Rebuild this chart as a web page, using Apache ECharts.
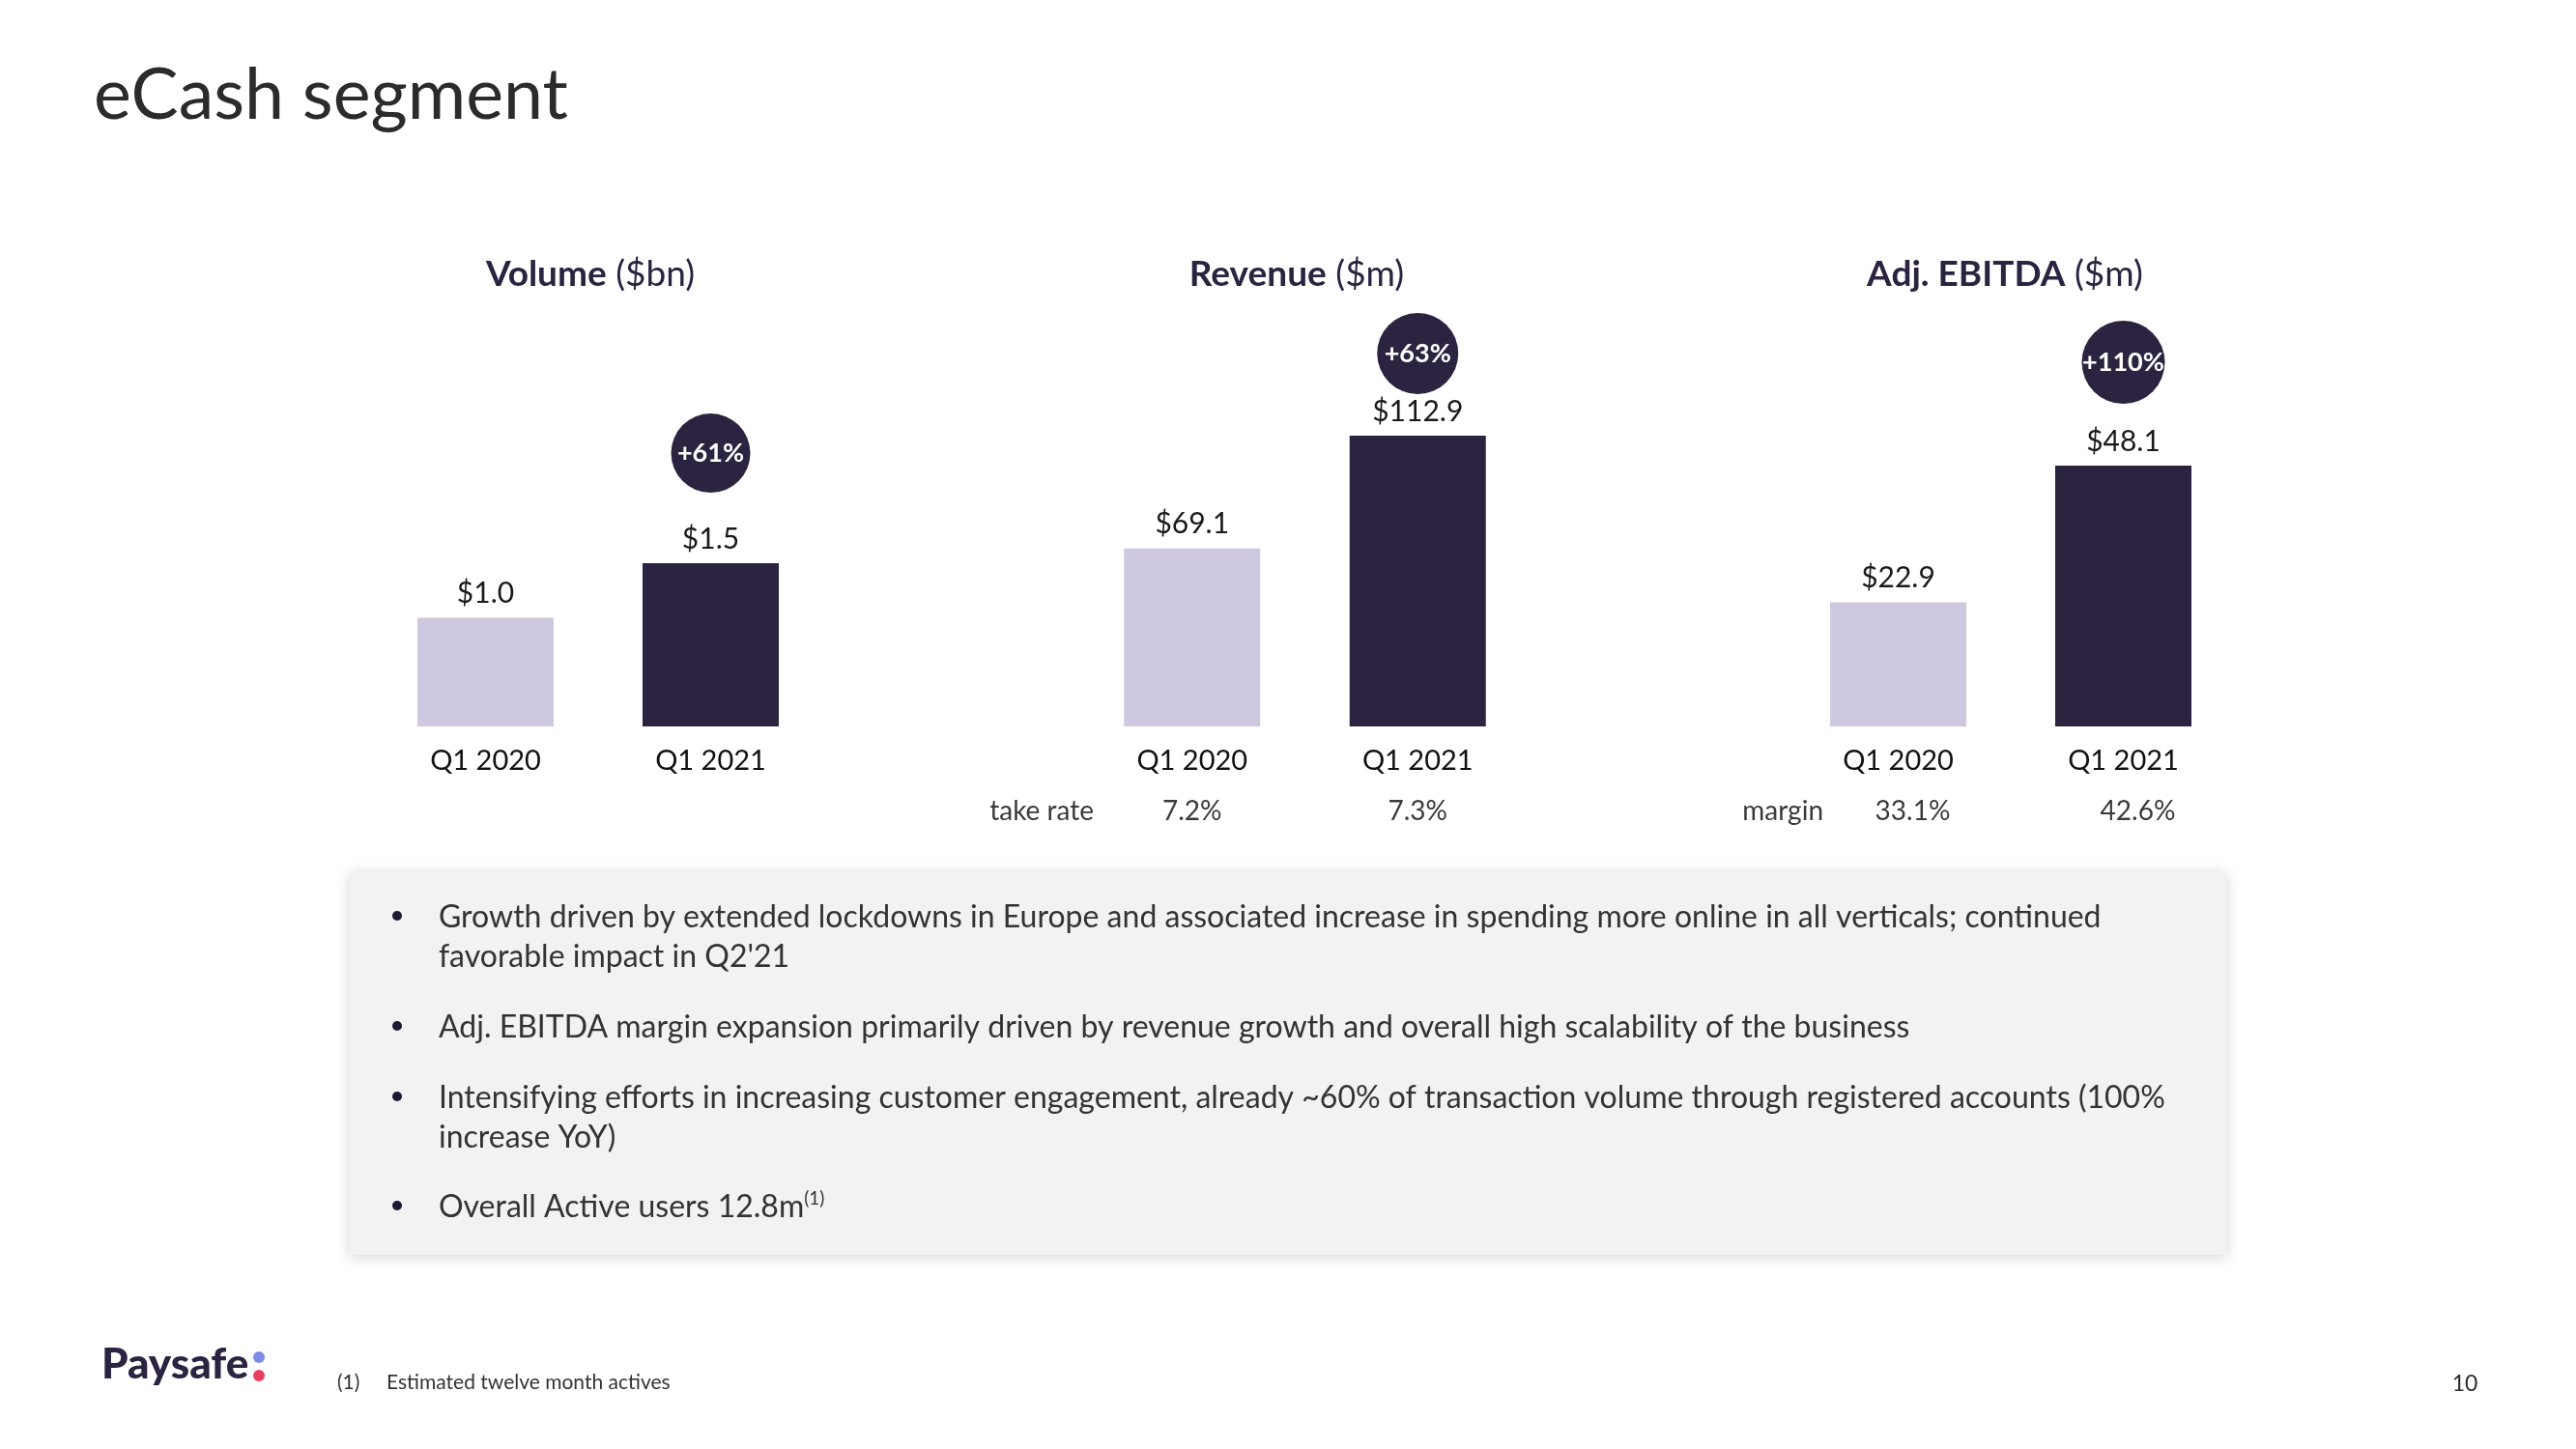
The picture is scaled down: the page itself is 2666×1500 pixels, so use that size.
<!DOCTYPE html>
<html><head><meta charset="utf-8">
<script src="https://cdn.jsdelivr.net/npm/echarts@6/dist/echarts.min.js"></script>
<style>html,body{margin:0;padding:0;background:#fff}#c{width:2666px;height:1500px}</style>
</head><body><div id="c"></div>
<script>
// ---- data ----
const categories = ['Q1 2020', 'Q1 2021'];
const volumeValues = [1.0, 1.5];
const revenueValues = [69.1, 112.9];
const ebitdaValues = [22.9, 48.1];
const chartTitles = [['Volume', '($bn)'], ['Revenue', '($m)'], ['Adj. EBITDA', '($m)']];
const growthBadges = ['+61%', '+63%', '+110%'];
const takeRate = ['7.2%', '7.3%'];
const marginRate = ['33.1%', '42.6%'];
const takeRateName = 'take rate';
const marginName = 'margin';
const bullets = [
  ["Growth driven by extended lockdowns in Europe and associated increase in spending more online in all verticals; continued", "favorable impact in Q2'21"],
  ["Adj. EBITDA margin expansion primarily driven by revenue growth and overall high scalability of the business"],
  ["Intensifying efforts in increasing customer engagement, already ~60% of transaction volume through registered accounts (100%", "increase YoY)"],
  ["Overall Active users 12.8m"]
];
const footnoteMark = '(1)';
const footnote = 'Estimated twelve month actives';
const pageNumber = '10';
const slideTitle = 'eCash segment';

// ---- style ----
const FONT = 'Lato';
const DARK = '#2b2340';
const LIGHT = '#cec8e0';
const chart = echarts.init(document.getElementById('c'));

const panels = [
  {values: volumeValues, left: 386, width: 466, max: 4.44, badgeOff: 114, badgeSize: 82},
  {values: revenueValues, left: 1117, width: 467, max: 187.5, badgeOff: 85, badgeSize: 84},
  {values: ebitdaValues, left: 1848, width: 466, max: 89.1, badgeOff: 107, badgeSize: 86}
];

const grid = panels.map(p => ({left: p.left, width: p.width, top: 252, height: 500}));
const xAxis = panels.map((p, i) => ({
  type: 'category', gridIndex: i, data: categories,
  axisLine: {show: false}, axisTick: {show: false},
  axisLabel: {fontFamily: FONT, fontSize: 29, color: '#111', margin: 21}
}));
function rowAxis(gridIndex, labels, name, nameGap, pad) {
  return {
    type: 'category', gridIndex, data: categories, position: 'bottom', offset: 70,
    axisLine: {show: false}, axisTick: {show: false},
    axisLabel: {fontFamily: FONT, fontSize: 28, color: '#3a3a3a', margin: 4,
      padding: pad, formatter: (v, idx) => labels[idx]},
    name, nameLocation: 'start', nameGap,
    nameTextStyle: {fontFamily: FONT, fontSize: 28, color: '#3a3a3a', align: 'right', verticalAlign: 'top', padding: [4, 0, 0, 0]}
  };
}
xAxis.push(rowAxis(1, takeRate, takeRateName, -15, [0, 0, 0, 0]));
xAxis.push(rowAxis(2, marginRate, marginName, -39, [0, 0, 0, 30]));

const yAxis = panels.map((p, i) => ({type: 'value', gridIndex: i, min: 0, max: p.max, show: false}));

const series = panels.map((p, i) => ({
  type: 'bar', xAxisIndex: i, yAxisIndex: i, data: p.values, barWidth: 141,
  itemStyle: {color: (d) => d.dataIndex === 0 ? LIGHT : DARK},
  label: {show: true, position: 'top', distance: 10, fontFamily: FONT, fontSize: 30, color: '#1a1a1a',
    formatter: (d) => '$' + d.value.toFixed(1)},
  markPoint: {
    symbol: 'circle', symbolSize: p.badgeSize, symbolOffset: [0, -p.badgeOff],
    itemStyle: {color: DARK},
    label: {show: true, color: '#fff', fontFamily: FONT, fontWeight: 'bold', fontSize: 27, formatter: growthBadges[i]},
    data: [{coord: [categories[1], p.values[1]]}]
  }
}));

// ---- graphics ----
const graphic = [];
graphic.push({type: 'text', x: 97, y: 99, style: {text: slideTitle, fontFamily: FONT, fontSize: 73.5, fill: '#2b2b2b', verticalAlign: 'middle'}});
const titleCenters = [611, 1342, 2075];
chartTitles.forEach((t, i) => {
  graphic.push({type: 'text', x: titleCenters[i], y: 284, style: {
    text: '{b|' + t[0] + '}{r| ' + t[1] + '}', align: 'center', verticalAlign: 'middle',
    rich: {b: {fontFamily: FONT, fontSize: 37, fontWeight: 'bold', fill: DARK}, r: {fontFamily: FONT, fontSize: 37, fill: DARK}}
  }});
});
// bullet box
graphic.push({type: 'rect', shape: {x: 362, y: 903, width: 1942, height: 396},
  style: {fill: '#f2f2f2', shadowBlur: 14, shadowColor: 'rgba(0,0,0,0.18)', shadowOffsetX: 0, shadowOffsetY: 2}});
const bulletY = [950, 1064, 1137, 1250];
bullets.forEach((lines, i) => {
  graphic.push({type: 'circle', shape: {cx: 411, cy: bulletY[i] - 2, r: 5}, style: {fill: '#1e1a33'}});
  lines.forEach((ln, j) => {
    const isLast = (i === bullets.length - 1);
    graphic.push({type: 'text', x: 454, y: bulletY[i] + j * 41, style: isLast ? {
      text: '{n|' + ln + '}{s|' + footnoteMark + '}', verticalAlign: 'middle',
      rich: {n: {fontFamily: FONT, fontSize: 32, fill: '#333', lineHeight: 38}, s: {fontFamily: FONT, fontSize: 19, fill: '#333', verticalAlign: 'top', lineHeight: 38, padding: [0, 0, 14, 0]}}
    } : {text: ln, fontFamily: FONT, fontSize: 32, fill: '#333', verticalAlign: 'middle'}});
  });
});
// footer
graphic.push({type: 'text', x: 105, y: 1413, style: {text: 'Paysafe', fontFamily: FONT, fontSize: 44, fontWeight: 900, fill: DARK, verticalAlign: 'middle'}});
graphic.push({type: 'circle', shape: {cx: 268, cy: 1405, r: 6}, style: {fill: '#7b8be6'}});
graphic.push({type: 'circle', shape: {cx: 268, cy: 1424, r: 6}, style: {fill: '#ea3d5f'}});
graphic.push({type: 'text', x: 349, y: 1431, style: {text: footnoteMark, fontFamily: FONT, fontSize: 21, fill: '#333', verticalAlign: 'middle'}});
graphic.push({type: 'text', x: 400, y: 1431, style: {text: footnote, fontFamily: FONT, fontSize: 21, fill: '#333', verticalAlign: 'middle'}});
graphic.push({type: 'text', x: 2551, y: 1433, style: {text: pageNumber, fontFamily: FONT, fontSize: 23, fill: '#2b2b2b', align: 'center', verticalAlign: 'middle'}});

chart.setOption({
  backgroundColor: '#fff', animation: false,
  grid, xAxis, yAxis, series, graphic
});
</script></body></html>
